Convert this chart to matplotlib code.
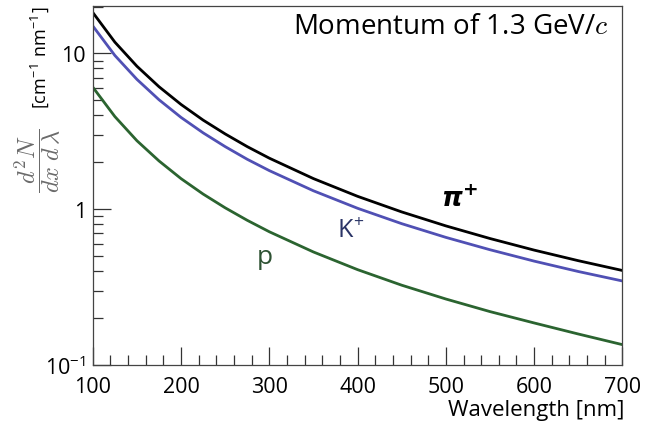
import matplotlib
matplotlib.use("Agg")
import matplotlib.pyplot as plt
from matplotlib.ticker import FixedLocator, FuncFormatter, MultipleLocator

plt.rcParams['font.family'] = ['Open Sans', 'DejaVu Sans']
plt.rcParams['mathtext.fontset'] = 'cm'

wavelength = [100, 125, 150, 175, 200, 225, 250, 275, 300, 350, 400, 450, 500, 550, 600, 650, 700]
pion = [18.3, 11.81, 8.27, 6.11, 4.70, 3.73, 3.04, 2.52, 2.125, 1.571, 1.209, 0.960, 0.781, 0.648, 0.546, 0.467, 0.404]
kaon = [15.0, 9.70, 6.81, 5.04, 3.88, 3.09, 2.52, 2.09, 1.768, 1.312, 1.013, 0.807, 0.659, 0.549, 0.464, 0.398, 0.346]
proton = [6.07, 3.93, 2.75, 2.04, 1.57, 1.25, 1.02, 0.848, 0.716, 0.531, 0.409, 0.325, 0.265, 0.220, 0.186, 0.158, 0.135]

fig = plt.figure(figsize=(6.49, 4.27), dpi=100)
ax = fig.add_axes([0.143, 0.143, 0.816, 0.841])

ax.plot(wavelength, pion, color='black', lw=2.0)
ax.plot(wavelength, kaon, color='#5050b4', lw=2.0)
ax.plot(wavelength, proton, color='#2b6430', lw=2.0)

ax.set_yscale('log')
ax.set_xlim(100, 700)
ax.set_ylim(0.1, 20.2)

ax.xaxis.set_major_locator(MultipleLocator(100))
ax.xaxis.set_minor_locator(MultipleLocator(20))
ax.yaxis.set_major_locator(FixedLocator([0.1, 1, 10]))

def yfmt(v, pos):
    if abs(v - 0.1) < 1e-9:
        return r'$\mathregular{10^{-1}}$'
    if abs(v - 1) < 1e-9:
        return '1'
    if abs(v - 10) < 1e-9:
        return '10'
    return ''
ax.yaxis.set_major_formatter(FuncFormatter(yfmt))

ax.tick_params(which='both', direction='in', top=False, right=False, colors='#333333',
               labelcolor='black', labelsize=15.5)
ax.tick_params(which='major', length=13, width=0.9)
ax.tick_params(which='minor', length=7, width=0.9)
ax.tick_params(axis='x', pad=8)
ax.tick_params(axis='y', pad=5)
for s in ax.spines.values():
    s.set_color('#444444')
    s.set_linewidth(0.9)

ax.text(1.004, -0.125, 'Wavelength [nm]', transform=ax.transAxes, ha='right', va='center', fontsize=16)
ax.text(0.974, 0.945, r'Momentum of 1.3 GeV/$c$', transform=ax.transAxes, ha='right', va='center', fontsize=20)

fig.text(0.058, 0.625, r'$\dfrac{d^2N}{dx\;d\,\lambda}$', rotation=90, ha='center', va='center', fontsize=17.5, color='#6a6a6a')
fig.text(0.061, 0.866, r'[cm$^{\mathregular{-1}}$ nm$^{\mathregular{-1}}$]', rotation=90, ha='center', va='center', fontsize=13)

ax.text(515, 1.17, r'$\boldsymbol{\pi}^{\mathbf{+}}$', fontsize=19, ha='center', va='center', color='black',
        math_fontfamily='dejavusans')
ax.text(392, 0.73, r'K$^{\mathregular{+}}$', fontsize=18, ha='center', va='center', color='#2a3466')
ax.text(295, 0.50, 'p', fontsize=19, ha='center', va='center', color='#2e5233')

fig.savefig('out.png', dpi=100)
